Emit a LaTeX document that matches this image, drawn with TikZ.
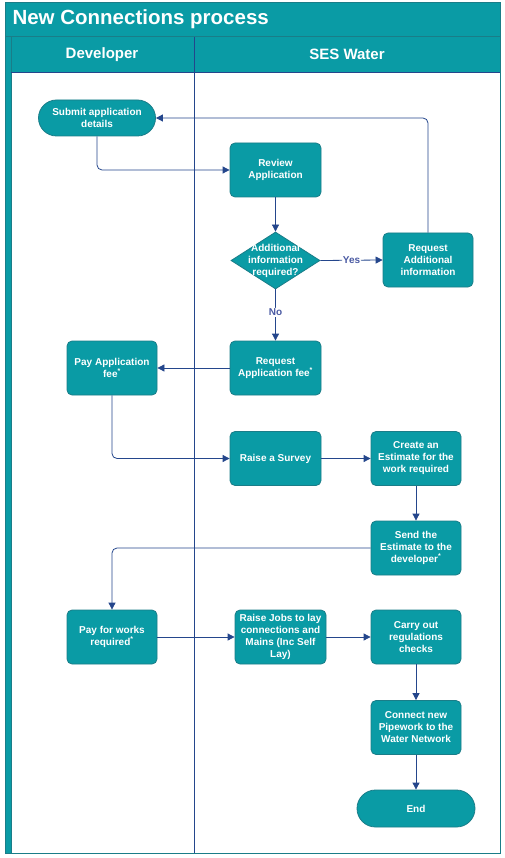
\documentclass[tikz,border=0pt]{standalone}
\usepackage{fontspec}
\setmainfont{Liberation Sans}
\usetikzlibrary{arrows.meta,shapes.geometric,shapes.misc}
\definecolor{tealfill}{HTML}{0A9BA5}
\definecolor{tealedge}{HTML}{1A7D88}
\definecolor{navy}{HTML}{24468C}
\definecolor{lbl}{HTML}{4A5AA3}
\begin{document}
\begin{tikzpicture}[x=1pt,y=-1pt,
  proc/.style={draw=tealedge,fill=tealfill,line width=0.8pt,rounded corners=5pt,
    minimum width=90pt,minimum height=54pt,text=white,align=center,inner sep=1pt,
    font=\bfseries\fontsize{10}{12}\selectfont},
  term/.style={draw=tealedge,fill=tealfill,line width=0.8pt,rounded rectangle,
    minimum height=36pt,text=white,align=center,inner sep=1pt,
    font=\bfseries\fontsize{10}{12}\selectfont},
  dec/.style={draw=tealedge,fill=tealfill,line width=0.8pt,diamond,
    minimum width=89pt,minimum height=57pt,inner sep=0pt},
  dectext/.style={text=white,align=center,inner sep=0pt,
    font=\bfseries\fontsize{10}{12}\selectfont},
  conn/.style={draw=navy,line width=0.8pt,rounded corners=5pt,
    -{Triangle[length=7pt,width=7pt]}},
  lab/.style={text=lbl,fill=white,inner sep=1pt,font=\bfseries\fontsize{10}{11}\selectfont},
  hdr/.style={text=white,font=\bfseries\fontsize{15}{17}\selectfont}]
\useasboundingbox (0,0) rectangle (504,858);
% frame
\fill[white] (5,2) rectangle (500,853);
\fill[tealfill] (5,2) rectangle (500,37);
\fill[tealfill] (5,37) rectangle (500,72);
\fill[tealfill] (5,37) rectangle (11,853);
\draw[tealedge,line width=0.8pt] (5,2) rectangle (500,853);
\draw[tealedge,line width=1pt] (5,37) -- (500,37);
\draw[tealedge,line width=0.8pt] (11,37) -- (11,853);
\draw[navy,line width=0.8pt] (11,72) -- (500,72);
\draw[navy,line width=0.8pt] (194,37) -- (194,853);
\node[anchor=west,text=white,font=\bfseries\fontsize{20.5}{22}\selectfont] (title) at (9,19.5) {New Connections process};
\node[hdr] (devh) at (102,54.5) {Developer};
\node[hdr] (sesh) at (347,54.5) {SES Water};
% nodes
\node[term,minimum width=119pt] (submit) at (97,118) {Submit application\\details};
\node[proc,minimum width=91pt] (review) at (275.5,170) {Review\\Application};
\node[dec] (dec) at (275.5,260.5) {};
\node[dectext] (dectxt) at (dec.center) {Additional\\information\\required?};
\node[proc] (reqadd) at (428,260) {Request\\Additional\\information};
\node[proc] (payfee) at (112,368) {Pay Application\\fee\textsuperscript{*}};
\node[proc,minimum width=91pt] (reqfee) at (275.5,368) {Request\\Application fee\textsuperscript{*}};
\node[proc,minimum width=91pt] (survey) at (275.5,458.5) {Raise a Survey};
\node[proc] (estimate) at (416,458.5) {Create an\\Estimate for the\\work required};
\node[proc] (send) at (416,548) {Send the\\Estimate to the\\developer\textsuperscript{*}};
\node[proc] (paywork) at (112,637) {Pay for works\\required\textsuperscript{*}};
\node[proc,minimum width=91pt] (jobs) at (280.5,637) {Raise Jobs to lay\\connections and\\Mains (Inc Self\\Lay)};
\node[proc] (checks) at (416,637) {Carry out\\regulations\\checks};
\node[proc] (connect) at (416,727.5) {Connect new\\Pipework to the\\Water Network};
\node[term,minimum width=120pt,minimum height=37pt] (end) at (416,808.5) {End};
% connectors
\draw[conn] (submit.south) |- (review.west);
\draw[conn] (review.south) -- (dec.north);
\draw[conn] (dec.east) -- node[lab] {Yes} (reqadd.west);
\draw[conn] (reqadd.north) |- (submit.east);
\draw[conn] (dec.south) -- node[lab,pos=0.45] {No} (reqfee.north);
\draw[conn] (reqfee.west) -- (payfee.east);
\draw[conn] (payfee.south) |- (survey.west);
\draw[conn] (survey.east) -- (estimate.west);
\draw[conn] (estimate.south) -- (send.north);
\draw[conn] (send.west) -| (paywork.north);
\draw[conn] (paywork.east) -- (jobs.west);
\draw[conn] (jobs.east) -- (checks.west);
\draw[conn] (checks.south) -- (connect.north);
\draw[conn] (connect.south) -- (end.north);
\end{tikzpicture}
\end{document}
